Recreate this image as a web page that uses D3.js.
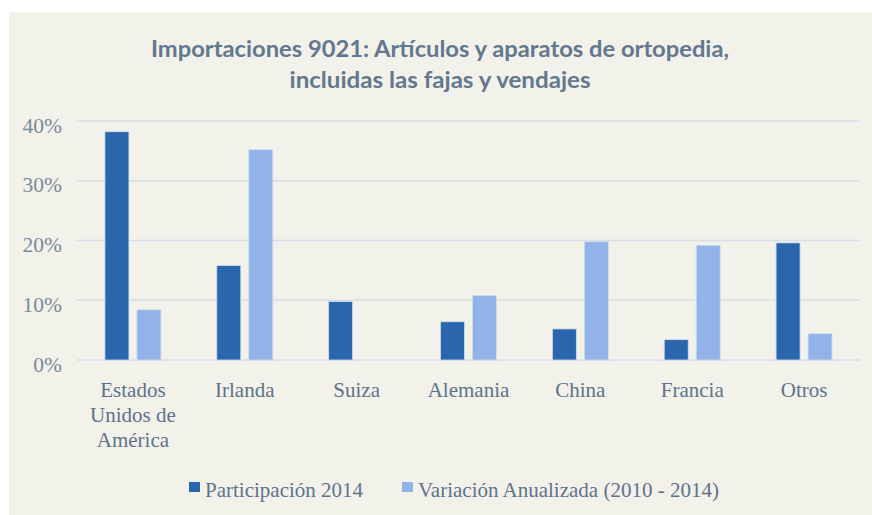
<!DOCTYPE html>
<html>
<head>
<meta charset="utf-8">
<script src="https://cdn.jsdelivr.net/npm/d3@7"></script>
<style>
  html, body { margin: 0; padding: 0; background: #ffffff; }
  svg { display: block; }
</style>
</head>
<body>
<svg id="chart" width="872" height="515"></svg>
<script>
// ---- Data ----
const categories = ["Estados Unidos de América", "Irlanda", "Suiza", "Alemania", "China", "Francia", "Otros"];
const seriesNames = ["Participación 2014", "Variación Anualizada (2010 - 2014)"];
const participacion2014 = [0.382, 0.158, 0.098, 0.064, 0.052, 0.034, 0.196];
const variacionAnualizada = [0.084, 0.352, 0, 0.108, 0.198, 0.192, 0.044];
const yTicks = [0, 0.1, 0.2, 0.3, 0.4];
const titleLines = ["Importaciones 9021: Artículos y aparatos de ortopedia,", "incluidas las fajas y vendajes"];

const seriesValues = [participacion2014, variacionAnualizada];
const colors = ["#2A66AE", "#92B3E8"];

const svg = d3.select("#chart");
const W = 872, H = 515;

// Background panel
svg.append("rect").attr("x", 0).attr("y", 0).attr("width", W).attr("height", H).attr("fill", "#ffffff");
svg.append("rect").attr("x", 9).attr("y", 12).attr("width", W - 9).attr("height", H - 12).attr("fill", "#F2F1EA");

// Title
const titleG = svg.append("g").attr("font-family", "Lato, 'Open Sans', sans-serif").attr("font-weight", "bold")
  .attr("fill", "#61788F").attr("font-size", 22).attr("text-anchor", "middle");
const titleWidths = [578, 301];
const titleBase = [57, 88];
titleLines.forEach((t, i) => {
  titleG.append("text").attr("x", 440).attr("y", titleBase[i])
    .attr("textLength", titleWidths[i]).attr("lengthAdjust", "spacingAndGlyphs").text(t);
});

// Scales
const plot = { left: 77, right: 860, top: 121, bottom: 360 };
const x0 = d3.scaleBand().domain(categories).range([plot.left, plot.right]).padding(0);
const groupW = 56;
const x1 = d3.scaleBand().domain(seriesNames).range([0, groupW]).paddingInner(0.25).paddingOuter(0);
const y = d3.scaleLinear().domain([0, 0.4]).range([plot.bottom, plot.top]);

// Gridlines
svg.append("g").selectAll("line").data(yTicks).join("line")
  .attr("x1", plot.left).attr("x2", plot.right)
  .attr("y1", d => y(d)).attr("y2", d => y(d))
  .attr("stroke", "#D6DEE7").attr("stroke-width", 1.5);

// Y axis labels
const yAxis = d3.axisLeft(y).tickValues(yTicks).tickFormat(d3.format(".0%")).tickSize(0).tickPadding(0);
const yG = svg.append("g").attr("transform", `translate(62,0)`).call(yAxis);
yG.select(".domain").remove();
yG.selectAll("text").attr("font-family", "'Liberation Serif', serif").attr("font-size", 21.5)
  .attr("fill", "#7A8B9B").attr("dy", "0.52em").attr("x", 0);

// Bars
const groups = svg.append("g").selectAll("g").data(categories).join("g")
  .attr("transform", d => `translate(${x0(d) + (x0.bandwidth() - groupW) / 2},0)`);
groups.selectAll("rect")
  .data((d, i) => seriesNames.map((s, j) => ({ s, v: seriesValues[j][i], j })))
  .join("rect")
  .filter(d => d.v > 0)
  .attr("x", d => x1(d.s)).attr("width", x1.bandwidth())
  .attr("y", d => y(d.v)).attr("height", d => y(0) - y(d.v))
  .attr("fill", d => colors[d.j])
  .attr("stroke", "#D3DDEA").attr("stroke-width", 0.8);

// X axis labels (wrapped)
const xAxis = d3.axisBottom(x0).tickSize(0).tickPadding(0);
const xG = svg.append("g").attr("transform", `translate(0,${plot.bottom})`).call(xAxis);
xG.select(".domain").remove();
xG.selectAll("text").attr("font-family", "'Liberation Serif', serif").attr("font-size", 21)
  .attr("fill", "#5E7389").attr("y", 37).attr("dy", 0)
  .each(function(d) {
    const el = d3.select(this);
    const words = d.split(" ");
    el.text(null);
    let line = [];
    let lineNo = 0;
    let tspan = el.append("tspan").attr("x", 0).attr("y", 37);
    words.forEach(w => {
      line.push(w);
      tspan.text(line.join(" "));
      if (tspan.node().getComputedTextLength() > 100 && line.length > 1) {
        line.pop();
        tspan.text(line.join(" "));
        line = [w];
        lineNo++;
        tspan = el.append("tspan").attr("x", 0).attr("y", 37 + lineNo * 25).text(w);
      }
    });
  });

// Legend
const legendItems = [
  { name: seriesNames[0], color: colors[0], sx: 189, tx: 205 },
  { name: seriesNames[1], color: colors[1], sx: 402, tx: 418 }
];
const lg = svg.append("g");
lg.selectAll("rect").data(legendItems).join("rect")
  .attr("x", d => d.sx).attr("y", 482).attr("width", 11).attr("height", 10)
  .attr("fill", d => d.color);
lg.selectAll("text").data(legendItems).join("text")
  .attr("x", d => d.tx).attr("y", 497)
  .attr("font-family", "'Liberation Serif', serif").attr("font-size", 21)
  .attr("fill", "#5E7389").text(d => d.name);
</script>
</body>
</html>
